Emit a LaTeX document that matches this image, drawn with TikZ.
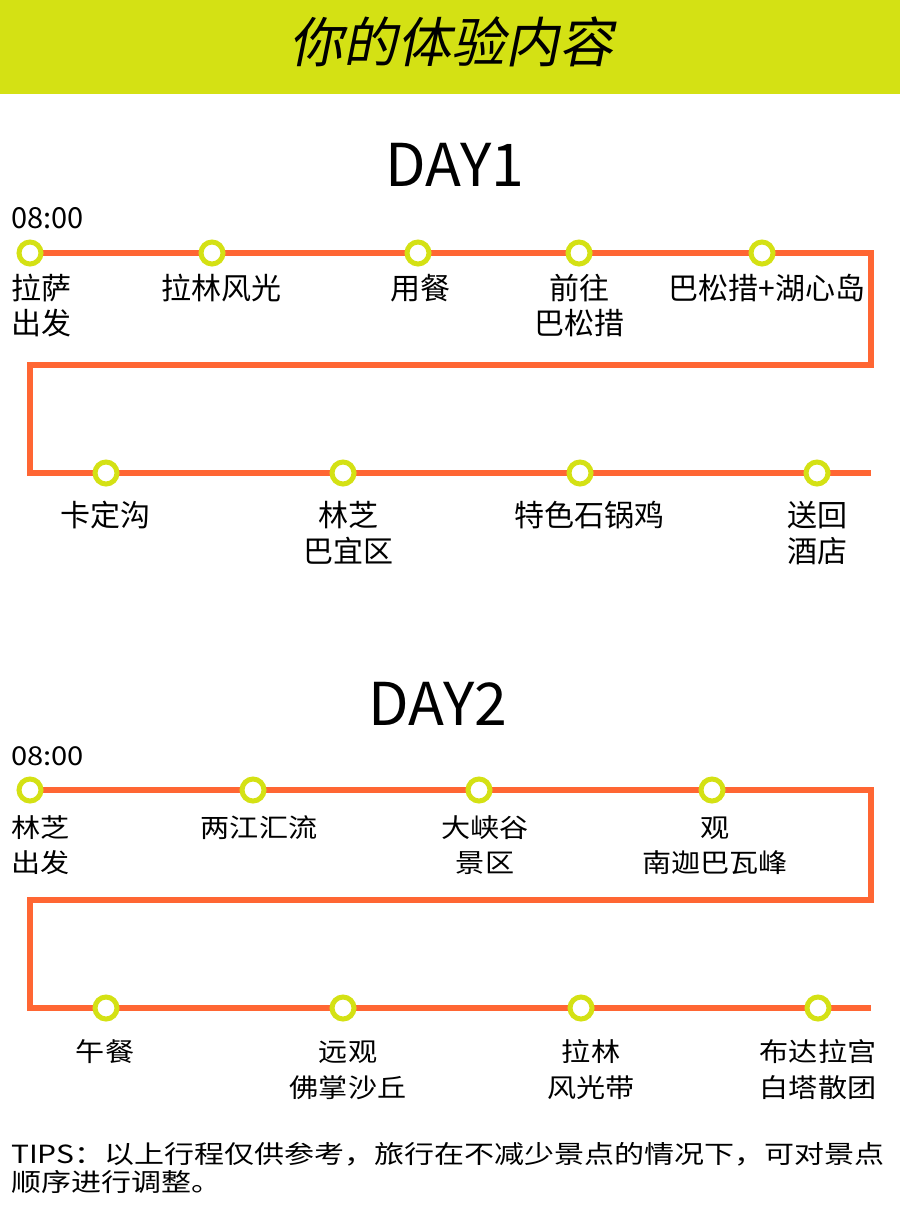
\documentclass[tikz,border=0pt]{standalone}
\usepackage{fontspec}
\setmainfont{Noto Sans CJK SC}
\newfontfamily\titlefont[FakeSlant=0.2]{Noto Sans CJK SC}
\newfontfamily\widefont[FakeStretch=1.12]{Noto Sans CJK SC}
\newfontfamily\tipsfont[FakeStretch=1.2]{Noto Sans CJK SC}
\usetikzlibrary{backgrounds}
\definecolor{tourlime}{HTML}{D4E114}
\definecolor{tourorange}{HTML}{FF6633}
\tikzstyle{stop}=[circle, draw=tourlime, line width=5pt, fill=white, minimum size=22pt, inner sep=0pt]
\tikzstyle{track}=[draw=tourorange, line width=6pt, line join=miter]
\tikzstyle{lbl}=[inner sep=0pt, anchor=base, align=center, font=\fontsize{30}{35}\selectfont]
\tikzstyle{lbltwo}=[inner sep=0pt, anchor=base, align=center, font=\widefont\fontsize{26}{35}\selectfont]

\begin{document}
\begin{tikzpicture}[x=1pt, y=-1pt]
    \useasboundingbox (0,0) rectangle (900,1213);
    \fill[tourlime] (0,0) rectangle (900,94);
    \node[inner sep=0pt, anchor=base, font=\titlefont\fontsize{54}{54}\selectfont] (title) at (451,62) {你的体验内容};

    % day 1
    \node[inner sep=0pt, anchor=base, font=\fontsize{59}{59}\selectfont] (day1) at (455,186) {DAY1};
    \node[inner sep=0pt, anchor=base west, font=\fontsize{29}{29}\selectfont] (t1) at (11,228) {08:00};

    \coordinate (d1a) at (871,253);
    \coordinate (d1b) at (871,365);
    \coordinate (d1c) at (30,365);
    \coordinate (d1d) at (30,473);
    \coordinate (d1e) at (871,473);

    \foreach \n/\x in {s11/30, s12/212, s13/418, s14/579, s15/762}
      \node[stop] (\n) at (\x,253) {};
    \foreach \n/\x in {s16/106, s17/343, s18/580, s19/817}
      \node[stop] (\n) at (\x,473) {};

    % base of a two-line label is its last line
    \node[lbl, anchor=base west, align=left] (l11) at (11,334) {拉萨\\出发};
    \foreach \n/\x/\t in {l12/221/拉林风光, l13/420/用餐, l15/767/巴松措+湖心岛}
      \node[lbl] (\n) at (\x,299) {\t};
    \node[lbl] (l14) at (579,334) {前往\\巴松措};
    \foreach \n/\x/\t in {l16/105/卡定沟, l18/589/特色石锅鸡}
      \node[lbl] (\n) at (\x,526) {\t};
    \foreach \n/\x/\t in {l17/348/{林芝\\巴宜区}, l19/817/{送回\\酒店}}
      \node[lbl, font=\fontsize{30}{36}\selectfont] (\n) at (\x,562) {\t};

    % day 2
    \node[inner sep=0pt, anchor=base, font=\fontsize{59}{59}\selectfont] (day2) at (438,725) {DAY2};
    \node[inner sep=0pt, anchor=base west, font=\widefont\fontsize{26}{26}\selectfont] (t2) at (11,765) {08:00};

    \coordinate (d2a) at (871,790);
    \coordinate (d2b) at (871,900);
    \coordinate (d2c) at (30,900);
    \coordinate (d2d) at (30,1008);
    \coordinate (d2e) at (871,1008);

    \foreach \n/\x in {s21/30, s22/253, s23/479, s24/712}
      \node[stop] (\n) at (\x,790) {};
    \foreach \n/\x in {s25/106, s26/343, s27/581, s28/818}
      \node[stop] (\n) at (\x,1008) {};

    \node[lbltwo, anchor=base west, align=left] (l21) at (11,872) {林芝\\出发};
    \node[lbltwo] (l22) at (259,837) {两江汇流};
    \foreach \n/\x/\t in {l23/485/{大峡谷\\景区}, l24/715/{观\\南迦巴瓦峰}}
      \node[lbltwo] (\n) at (\x,872) {\t};
    \node[lbltwo] (l25) at (105,1061) {午餐};
    \foreach \n/\x/\t in {l26/348/{远观\\佛掌沙丘}, l27/591/{拉林\\风光带}, l28/818/{布达拉宫\\白塔散团}}
      \node[lbltwo, font=\widefont\fontsize{26}{36}\selectfont] (\n) at (\x,1097) {\t};

    \node[inner sep=0pt, anchor=base west, align=left, font=\tipsfont\fontsize{25}{28}\selectfont] (tips) at (11,1191)
      {TIPS：以上行程仅供参考，旅行在不减少景点的情况下，可对景点\\顺序进行调整。};

    \begin{scope}[on background layer]
      \draw[track] (s11.center) -- (d1a) -- (d1b) -- (d1c) -- (d1d) -- (d1e);
      \draw[track] (s21.center) -- (d2a) -- (d2b) -- (d2c) -- (d2d) -- (d2e);
    \end{scope}
\end{tikzpicture}
\end{document}
